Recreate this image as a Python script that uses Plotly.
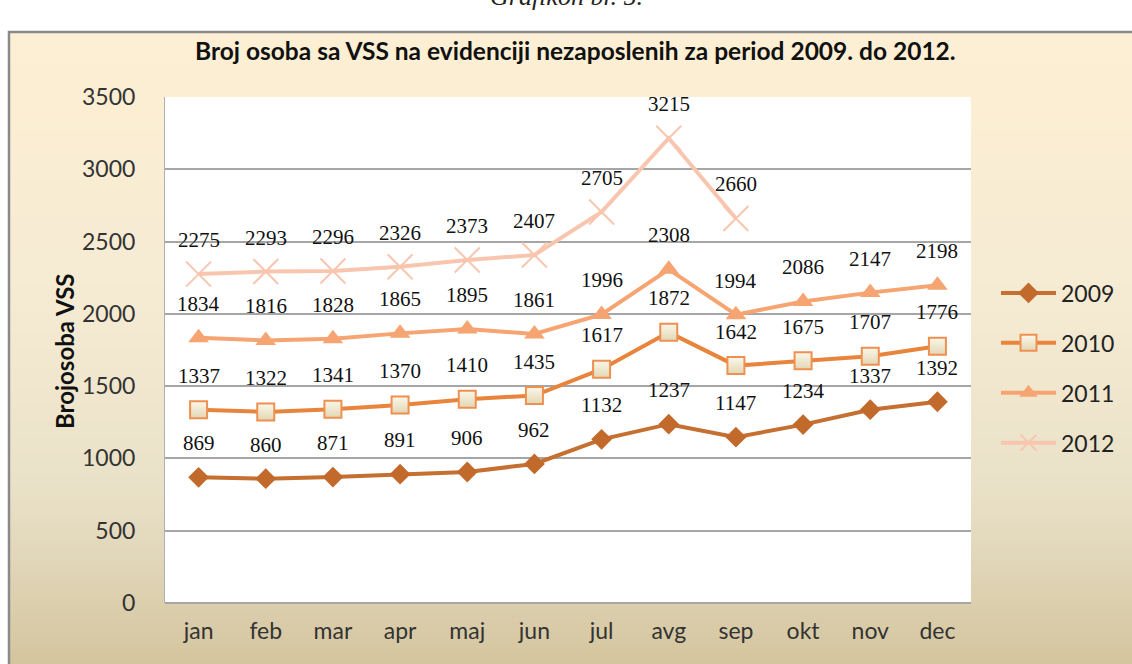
import plotly.graph_objects as go

months = ["jan", "feb", "mar", "apr", "maj", "jun", "jul", "avg", "sep", "okt", "nov", "dec"]
years = ["2009", "2010", "2011", "2012"]
v2009 = [869, 860, 871, 891, 906, 962, 1132, 1237, 1147, 1234, 1337, 1392]
v2010 = [1337, 1322, 1341, 1370, 1410, 1435, 1617, 1872, 1642, 1675, 1707, 1776]
v2011 = [1834, 1816, 1828, 1865, 1895, 1861, 1996, 2308, 1994, 2086, 2147, 2198]
v2012 = [2275, 2293, 2296, 2326, 2373, 2407, 2705, 3215, 2660, None, None, None]
y_ticks = [0, 500, 1000, 1500, 2000, 2500, 3000, 3500]

title_text = "Broj osoba sa VSS na evidenciji nezaposlenih za period 2009. do 2012."
ytitle_text = "Brojosoba VSS"
caption_text = "Grafikon br. 5."

W, H = 1132, 664
ML, MR, MT, MB = 165, 161, 97, 61
PW, PH = W - ML - MR, H - MT - MB


def px_x(p):
    return (p - ML) / PW


def px_y(p):
    return (H - MB - p) / PH


series_styles = [
    dict(line=dict(color="#C56F30", width=4),
         marker=dict(symbol="diamond", size=16, color="#C26A2B",
                     line=dict(width=0))),
    dict(line=dict(color="#E8843C", width=4),
         marker=dict(symbol="square", size=17, color="#FBF7EA",
                     gradient=dict(type="vertical", color="#E2D7B4"),
                     line=dict(color="#EE9050", width=2))),
    dict(line=dict(color="#F6A472", width=4),
         marker=dict(symbol="triangle-up", size=18, color="#F6A472",
                     line=dict(width=0))),
    dict(line=dict(color="#F8C6AF", width=4),
         marker=dict(symbol="x-thin", size=25, color="#F8C6AF",
                     line=dict(color="#F8C6AF", width=2))),
]

fig = go.Figure()
all_vals = [v2009, v2010, v2011, v2012]
for name, vals, st in zip(years, all_vals, series_styles):
    fig.add_trace(go.Scatter(
        x=months, y=vals, name=name, mode="lines+markers",
        line=st["line"], marker=st["marker"], legendgroup=name,
        connectgaps=False,
    ))

annotations = []
for vals in all_vals:
    for m, v in zip(months, vals):
        if v is None:
            continue
        annotations.append(dict(
            x=m, y=v, xref="x", yref="y", text=str(v), showarrow=False,
            yshift=34, font=dict(family="Liberation Serif", size=21, color="#111111"),
        ))

# background gradient strips
stops = [(30, (253, 239, 211)), (300, (245, 235, 211)), (480, (234, 226, 200)),
         (560, (225, 214, 185)), (664, (212, 197, 158))]


def col_at(p):
    for (p0, c0), (p1, c1) in zip(stops[:-1], stops[1:]):
        if p0 <= p <= p1:
            t = (p - p0) / (p1 - p0)
            return tuple(round(a + (b - a) * t) for a, b in zip(c0, c1))
    return stops[-1][1]


shapes = []
n = 120
top, bot = 32, 664
step = (bot - top) / n
for i in range(n):
    p0 = top + i * step
    p1 = p0 + step + 0.8
    c = col_at(p0 + step / 2)
    shapes.append(dict(type="rect", xref="paper", yref="paper", layer="below",
                       x0=px_x(9), x1=px_x(1140), y0=px_y(p1), y1=px_y(p0),
                       line=dict(width=0), fillcolor="rgb(%d,%d,%d)" % c))
# frame border
shapes.append(dict(type="rect", xref="paper", yref="paper", layer="below",
                   x0=px_x(9), x1=px_x(1145), y0=px_y(680), y1=px_y(32),
                   line=dict(width=2.5, color="#8A8A8A"), fillcolor="rgba(0,0,0,0)"))
# white plot area
shapes.append(dict(type="rect", xref="paper", yref="paper", layer="below",
                   x0=0, x1=1, y0=0, y1=1, line=dict(width=0), fillcolor="white"))

annotations.append(dict(
    x=px_x(575), y=px_y(50), xref="paper", yref="paper", text="<b>" + title_text + "</b>",
    showarrow=False, xanchor="center", yanchor="middle",
    font=dict(family="Lato", size=24.5, color="#111111")))
annotations.append(dict(
    x=px_x(566), y=px_y(-4), xref="paper", yref="paper", text="<i>" + caption_text + "</i>",
    showarrow=False, xanchor="center", yanchor="middle",
    font=dict(family="Liberation Serif", size=26, color="#222222")))
annotations.append(dict(
    x=px_x(64), y=px_y(351), xref="paper", yref="paper", text="<b>" + ytitle_text + "</b>",
    showarrow=False, textangle=-90, xanchor="center", yanchor="middle",
    font=dict(family="Lato", size=24, color="#111111")))

fig.update_layout(
    width=W, height=H,
    margin=dict(l=ML, r=MR, t=MT, b=MB, autoexpand=False),
    paper_bgcolor="white", plot_bgcolor="white",
    shapes=shapes, annotations=annotations,
    showlegend=True,
    legend=dict(x=px_x(996), y=px_y(368), xanchor="left", yanchor="middle",
                bgcolor="rgba(0,0,0,0)", itemwidth=55, tracegroupgap=17,
                font=dict(family="Lato", size=23, color="#222222"),
                traceorder="grouped"),
    xaxis=dict(type="category", range=[-0.5, 11.5], showgrid=False,
               showline=False, ticks="", ticklabelstandoff=12,
               tickfont=dict(family="Lato", size=23, color="#333333"),
               fixedrange=True),
    yaxis=dict(range=[0, 3500], tickvals=y_ticks, showgrid=True,
               gridcolor="#A6A6A6", gridwidth=1.5, zeroline=True,
               zerolinecolor="#A6A6A6", zerolinewidth=1.5,
               showline=True, linecolor="#B0B0B0", linewidth=1,
               ticks="", ticklabelstandoff=24,
               tickfont=dict(family="Lato", size=23, color="#333333"),
               fixedrange=True),
)

fig.write_html("out.html", config={"displayModeBar": False},
               post_script="document.body.style.margin='0px';document.body.style.overflow='hidden';")
